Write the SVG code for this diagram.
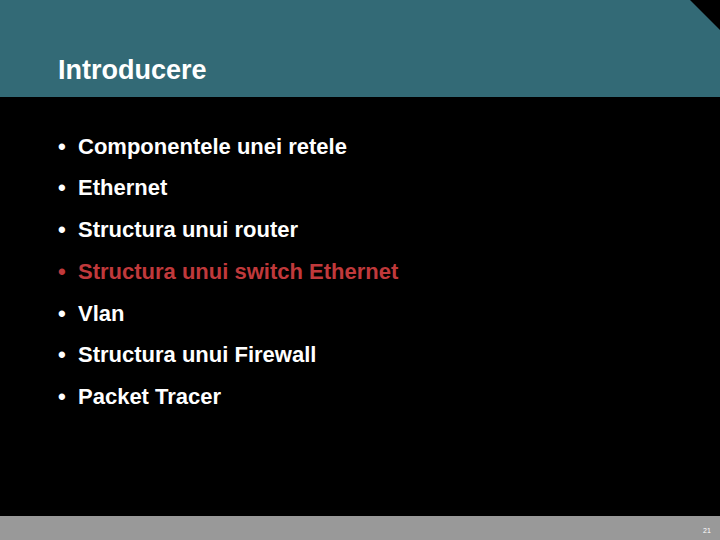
<svg xmlns="http://www.w3.org/2000/svg" width="720" height="540" viewBox="0 0 720 540">
<style>
.b{font-family:"Liberation Sans",Arial,sans-serif;font-size:22px;font-weight:bold;fill:#fff}
.r{fill:#c0393b}
</style>
<rect width="720" height="540" fill="#000"/>
<rect width="720" height="97" fill="#336a76"/>
<polygon points="690,0 720,0 720,30" fill="#000"/>
<text x="58" y="79" font-family="Liberation Sans,Arial,sans-serif" font-size="27" font-weight="bold" fill="#fff">Introducere</text>
<g id="list">
<text class="b" x="58" y="154">•</text><text class="b" x="78" y="154">Componentele unei retele</text>
<text class="b" x="58" y="195">•</text><text class="b" x="78" y="195">Ethernet</text>
<text class="b" x="58" y="237">•</text><text class="b" x="78" y="237">Structura unui router</text>
<text class="b r" x="58" y="279">•</text><text class="b r" x="78" y="279">Structura unui switch Ethernet</text>
<text class="b" x="58" y="321">•</text><text class="b" x="78" y="321">Vlan</text>
<text class="b" x="58" y="362">•</text><text class="b" x="78" y="362">Structura unui Firewall</text>
<text class="b" x="58" y="404">•</text><text class="b" x="78" y="404">Packet Tracer</text>
</g>
<rect y="516" width="720" height="24" fill="#999"/>
<text x="707" y="533" font-family="Liberation Sans,Arial,sans-serif" font-size="7" fill="#fff" text-anchor="middle">21</text>
</svg>
